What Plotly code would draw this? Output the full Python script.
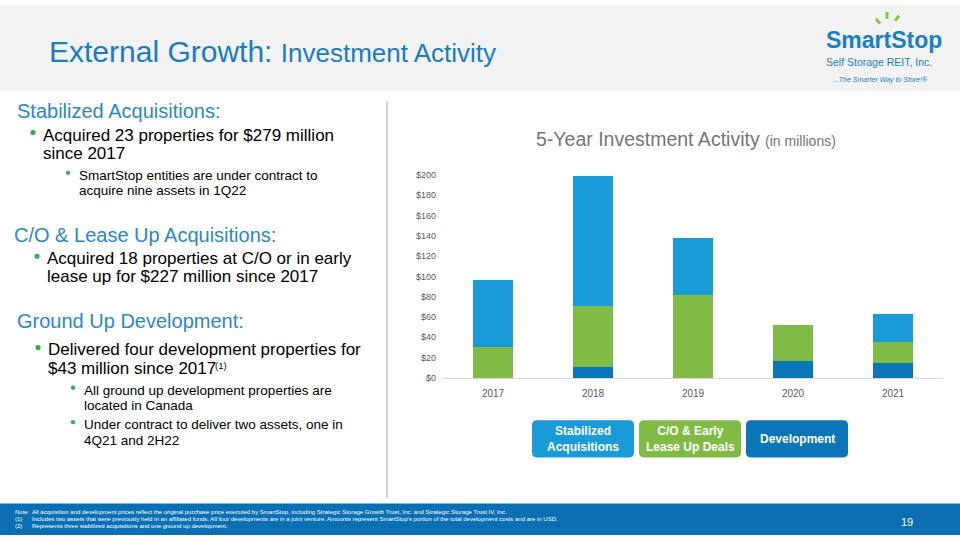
import plotly.graph_objects as go

W, H = 960, 540

years = ["2017", "2018", "2019", "2020", "2021"]
development = [0, 11, 0, 17, 15]
co_lease_up = [30, 60, 82, 35, 20]
stabilized = [66, 128, 56, 0, 28]
y_ticks = [0, 20, 40, 60, 80, 100, 120, 140, 160, 180, 200]
y_tick_labels = ["$" + str(v) for v in y_ticks]

C_DEV = "#0b76b7"
C_GREEN = "#80bc45"
C_BLUE = "#199bd7"
TITLE_BLUE = "#1a7dc2"
HEAD_BLUE = "#2a88c8"
BULLET = "#2fb24f"
FONT = "Liberation Sans, Arial, sans-serif"


def px(x):
    return x / W


def py(y):
    return 1 - y / H


fig = go.Figure()
fig.add_trace(go.Bar(x=years, y=development, marker_color=C_DEV, name="Development",
                     marker_line_width=0))
fig.add_trace(go.Bar(x=years, y=co_lease_up, marker_color=C_GREEN, name="C/O & Early Lease Up Deals",
                     marker_line_width=0))
fig.add_trace(go.Bar(x=years, y=stabilized, marker_color=C_BLUE, name="Stabilized Acquisitions",
                     marker_line_width=0))

shapes = []
annotations = []


def rect(x0, y0, x1, y1, color, layer="below"):
    shapes.append(dict(type="rect", xref="paper", yref="paper", x0=px(x0), x1=px(x1),
                       y0=py(y1), y1=py(y0), fillcolor=color, line_width=0, layer=layer))


def rrect(x0, y0, x1, y1, r, color):
    X0, X1 = px(x0), px(x1)
    Y0, Y1 = py(y0), py(y1)
    rx, ry = r / W, r / H
    path = (f"M {X0+rx},{Y0} L {X1-rx},{Y0} Q {X1},{Y0} {X1},{Y0-ry} "
            f"L {X1},{Y1+ry} Q {X1},{Y1} {X1-rx},{Y1} L {X0+rx},{Y1} "
            f"Q {X0},{Y1} {X0},{Y1+ry} L {X0},{Y0-ry} Q {X0},{Y0} {X0+rx},{Y0} Z")
    shapes.append(dict(type="path", xref="paper", yref="paper", path=path,
                       fillcolor=color, line_width=0, layer="above"))


def line(x0, y0, x1, y1, color, width):
    shapes.append(dict(type="line", xref="paper", yref="paper", x0=px(x0), x1=px(x1),
                       y0=py(y0), y1=py(y1), line=dict(color=color, width=width)))


def dot(x, y, r, color):
    shapes.append(dict(type="circle", xref="paper", yref="paper", x0=px(x - r), x1=px(x + r),
                       y0=py(y + r), y1=py(y - r), fillcolor=color, line_width=0))


def text(x, y, s, size, color="#000000", xanchor="left", family=FONT, yanchor="middle"):
    annotations.append(dict(x=px(x), y=py(y), xref="paper", yref="paper", text=s,
                            showarrow=False, xanchor=xanchor, yanchor=yanchor,
                            font=dict(size=size, color=color, family=family)))


# header band
rect(0, 0, 960, 87, "#f2f2f2")
# footer band
rect(0, 508, 960, 540, "#0b6fb4")
# divider
line(387, 98, 387, 502, "#bfbfbf", 1.5)

# title
text(47, 47, "External Growth: <span style='font-size:26px'>Investment Activity</span>",
     30, TITLE_BLUE)

# logo
line(876, 14, 880, 19, "#8cc63f", 3)
line(887, 7, 887, 14, "#8cc63f", 3)
line(899, 11, 895, 16, "#8cc63f", 3)
text(884, 36, "<b>SmartStop</b>", 23, "#1a80c4", xanchor="center")
text(879, 58, "Self Storage REIT, Inc.", 10.5, "#1a80c4", xanchor="center")
text(880, 76, "<i>...The Smarter Way to Store!®</i>", 7, "#1a80c4", xanchor="center")

# left text
SUB = 13.5
text(15, 108, "Stabilized Acquisitions:", 20, HEAD_BLUE)
dot(33, 130, 2.6, BULLET)
text(41, 132.5, "Acquired 23 properties for $279 million", 17)
text(41, 151, "since 2017", 17)
dot(68, 171, 2.2, BULLET)
text(77, 173.5, "SmartStop entities are under contract to", SUB)
text(77, 189.5, "acquire nine assets in 1Q22", SUB)

text(12, 234, "C/O &amp; Lease Up Acquisitions:", 20, HEAD_BLUE)
dot(37, 256, 2.6, BULLET)
text(45, 258.5, "Acquired 18 properties at C/O or in early", 17)
text(45, 277, "lease up for $227 million since 2017", 17)

text(15, 322, "Ground Up Development:", 20, HEAD_BLUE)
dot(38, 349, 2.6, BULLET)
text(46, 351.5, "Delivered four development properties for", 17)
text(46, 370, "$43 million since 2017", 17)
text(213, 367.5, "(1)", 9.5)
dot(73, 390, 2.2, BULLET)
text(82, 392.5, "All ground up development properties are", SUB)
text(82, 408.5, "located in Canada", SUB)
dot(73, 425, 2.2, BULLET)
text(82, 427.5, "Under contract to deliver two assets, one in", SUB)
text(82, 443.5, "4Q21 and 2H22", SUB)

# chart title
text(686, 137, "5-Year Investment Activity <span style='font-size:14px'>(in millions)</span>",
     19.5, "#767676", xanchor="center")

# legend boxes
legend_boxes = [
    (532, 634, C_BLUE, "Stabilized<br>Acquisitions"),
    (639, 741, C_GREEN, "C/O &amp; Early<br>Lease Up Deals"),
    (746, 848, C_DEV, "Development"),
]
for x0, x1, col, lab in legend_boxes:
    rrect(x0, 423, x1, 461, 5, col)
    text((x0 + x1) / 2, 442, "<b>" + lab + "</b>", 12, "#ffffff", xanchor="center")

# footer text
FN = 6
text(13, 516.5, "Note:", FN, "#ffffff")
text(30, 516.5, "All acquisition and development prices reflect the original purchase price executed by "
                "SmartStop, including Strategic Storage Growth Trust, Inc. and Strategic Storage Trust IV, Inc.",
     FN, "#ffffff")
text(13, 523.5, "(1)", FN, "#ffffff")
text(30, 523.5, "Includes two assets that were previously held in an affiliated funds. All four developments "
                "are in a joint venture. Amounts represent SmartStop's portion of the total development "
                "costs and are in USD.", FN, "#ffffff")
text(13, 530.5, "(2)", FN, "#ffffff")
text(30, 530.5, "Represents three stabilized acquisitions and one ground up development.", FN, "#ffffff")
text(907, 527, "19", 11, "#ffffff", xanchor="center")

fig.update_layout(
    width=W, height=H,
    margin=dict(l=0, r=0, t=0, b=0),
    paper_bgcolor="#ffffff", plot_bgcolor="rgba(0,0,0,0)",
    barmode="stack", bargap=0.6, showlegend=False,
    shapes=shapes, annotations=annotations,
    font=dict(family=FONT),
    xaxis=dict(domain=[443 / W, 943 / W], showgrid=False, showline=True, linecolor="#d9d9d9",
               linewidth=1, ticks="", tickfont=dict(size=10, color="#595959"),
               ticklabelstandoff=6, fixedrange=True),
    yaxis=dict(domain=[py(380), py(173)], range=[0, 200], tickvals=y_ticks, ticktext=y_tick_labels,
               showgrid=False, zeroline=False, showline=False, ticks="",
               tickfont=dict(size=9, color="#595959"), ticklabelstandoff=6, fixedrange=True),
)

fig.write_html(
    "out.html",
    config={"displayModeBar": False},
    post_script=("document.body.style.margin='0px';document.body.style.overflow='hidden';"
                 "var d=document.getElementById('{plot_id}');d.style.position='absolute';"
                 "d.style.left='0px';d.style.top='0px';"),
)
